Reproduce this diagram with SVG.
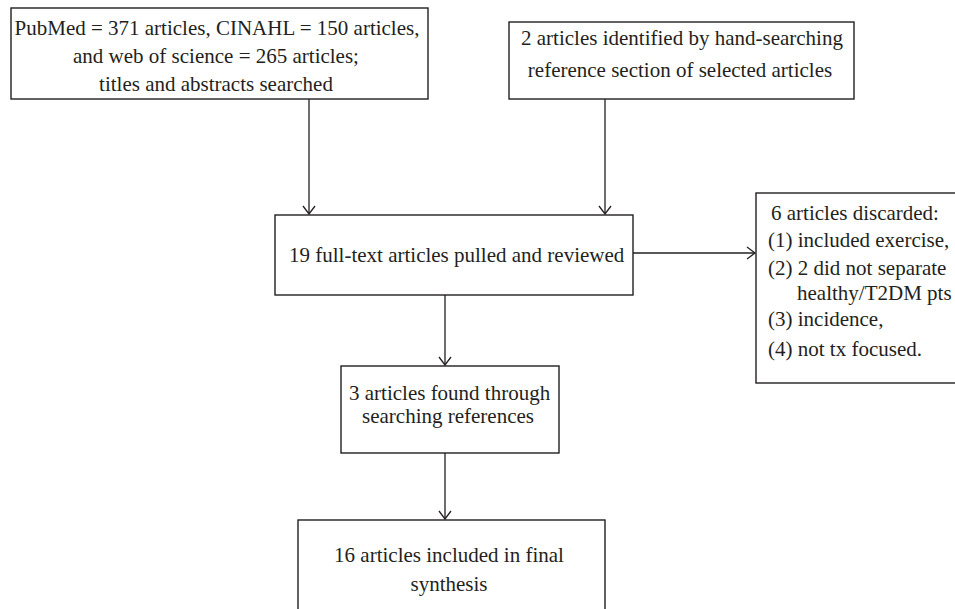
<svg xmlns="http://www.w3.org/2000/svg" width="955" height="609" viewBox="0 0 955 609">
<defs>
<style>
.box{fill:#fff;stroke:#231f20;stroke-width:1.4}
.t{font-family:"Liberation Serif","Times New Roman",serif;font-size:21px;fill:#231f20}
.c{text-anchor:middle}
.ln{stroke:#231f20;stroke-width:1.3;fill:none}
</style>
<marker id="arr" viewBox="0 0 10 14" refX="9" refY="7" markerWidth="10" markerHeight="14" markerUnits="userSpaceOnUse" orient="auto">
<path d="M1,1 L9,7 L1,13" fill="none" stroke="#231f20" stroke-width="1.3"/>
</marker>
</defs>
<rect width="955" height="609" fill="#fff"/>
<g id="connectors">
<line class="ln" x1="309" y1="99" x2="309" y2="214" marker-end="url(#arr)"/>
<line class="ln" x1="605" y1="99" x2="605" y2="214" marker-end="url(#arr)"/>
<line class="ln" x1="633" y1="253" x2="755" y2="253" marker-end="url(#arr)"/>
<line class="ln" x1="445" y1="295" x2="445" y2="365" marker-end="url(#arr)"/>
<line class="ln" x1="445" y1="453" x2="445" y2="519" marker-end="url(#arr)"/>
</g>
<g id="n1">
<rect class="box" x="11" y="8" width="417" height="91"/>
<text class="t c" x="217" y="35">PubMed = 371 articles, CINAHL = 150 articles,</text>
<text class="t c" x="216" y="63">and web of science = 265 articles;</text>
<text class="t c" x="216" y="91">titles and abstracts searched</text>
</g>
<g id="n2">
<rect class="box" x="509" y="22" width="345" height="77"/>
<text class="t c" x="682" y="45">2 articles identified by hand-searching</text>
<text class="t c" x="680" y="77">reference section of selected articles</text>
</g>
<g id="n3">
<rect class="box" x="275" y="215" width="358" height="80"/>
<text class="t" x="289" y="262">19 full-text articles pulled and reviewed</text>
</g>
<g id="n4">
<rect class="box" x="756" y="193" width="210" height="190"/>
<text class="t" x="771" y="220">6 articles discarded:</text>
<text class="t" x="768" y="247">(1) included exercise,</text>
<text class="t" x="768" y="275">(2) 2 did not separate</text>
<text class="t" x="797" y="300">healthy/T2DM pts</text>
<text class="t" x="768" y="326">(3) incidence,</text>
<text class="t" x="768" y="356">(4) not tx focused.</text>
</g>
<g id="n5">
<rect class="box" x="341" y="366" width="218" height="87"/>
<text class="t" x="349" y="400">3 articles found through</text>
<text class="t" x="362" y="423">searching references</text>
</g>
<g id="n6">
<rect class="box" x="298" y="520" width="307" height="100"/>
<text class="t c" x="449" y="562">16 articles included in final</text>
<text class="t c" x="449" y="591">synthesis</text>
</g>
</svg>
